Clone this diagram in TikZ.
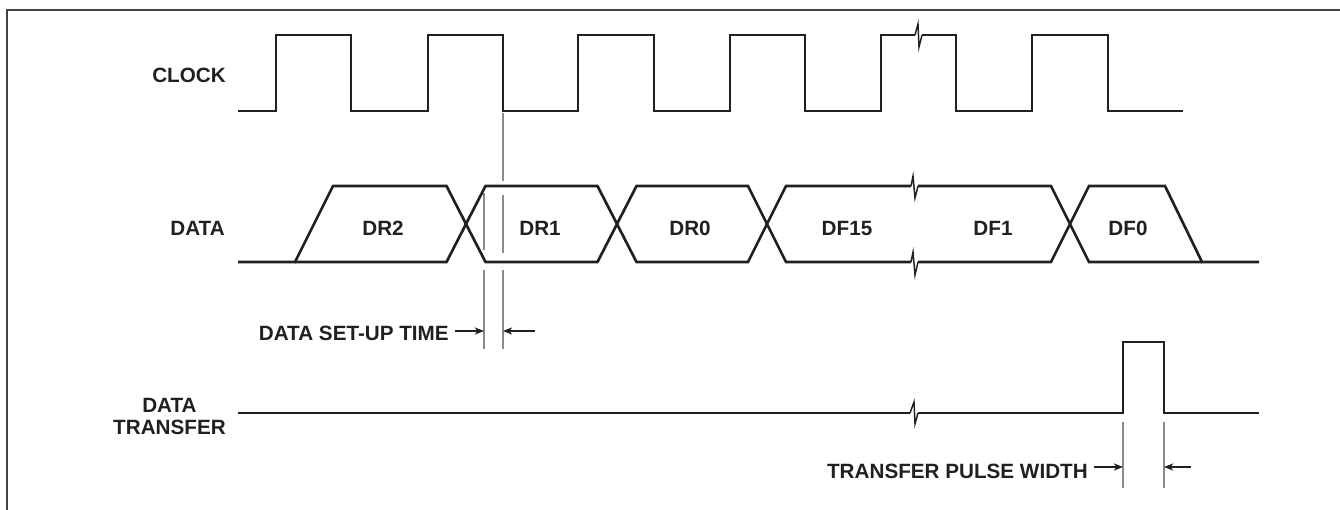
\documentclass[tikz,border=0pt]{standalone}
\usepackage{fontspec}
\setmainfont{Liberation Sans}
\usetikzlibrary{arrows.meta}
\definecolor{ink}{HTML}{231F20}
\definecolor{guide}{HTML}{8A8A8A}
\begin{document}
\begin{tikzpicture}[x=0.75pt,y=-0.75pt,
  sig/.style={draw=ink,line width=2pt,line join=miter},
  brk/.style={draw=ink,line width=1.1pt},
  guideline/.style={draw=guide,line width=0.9pt},
  dimarrow/.style={draw=ink,line width=0.8pt,-{Stealth[length=7pt,width=5.5pt]}},
  lbl/.style={font=\fontsize{15.5}{16.5}\selectfont\bfseries,text=ink,inner sep=0pt},
  frameline/.style={draw=ink!85,line width=1.5pt}]
\useasboundingbox (0,0) rectangle (1340,510);
% frame
\draw[frameline] (7,510) -- (7,10) -- (1340,10);
% signal names
\node[lbl,anchor=east] (nclk) at (226,75) {CLOCK};
\node[lbl,anchor=east] (ndata) at (225,228) {DATA};
\node[lbl,anchor=east,align=center] (ndt) at (226,416) {DATA\\TRANSFER};
% clock
\draw[sig] (238,111) -- (276,111) -- (276,35) -- (351,35) -- (351,111) -- (428,111) -- (428,35)
  -- (503,35) -- (503,111) -- (578,111) -- (578,35) -- (654,35) -- (654,111) -- (730,111)
  -- (730,35) -- (805,35) -- (805,111) -- (881,111) -- (881,35) -- (915,35);
\draw[brk] (915,35) -- (918,24) -- (919,47) -- (922,35);
\draw[sig] (922,35) -- (956,35) -- (956,111) -- (1032,111) -- (1032,35) -- (1108,35)
  -- (1108,111) -- (1183,111);
% data
\draw[sig] (238,262) -- (295,262) -- (333,186) -- (446.5,186) -- (485.5,262) -- (597.5,262)
  -- (636.5,186) -- (748,186) -- (786,262) -- (911,262);
\draw[sig] (918,262) -- (1051,262) -- (1089,186) -- (1165,186) -- (1202,262) -- (1259,262);
\draw[sig] (295,262) -- (446.5,262) -- (485.5,186) -- (597.5,186) -- (636.5,262) -- (748,262)
  -- (786,186) -- (911,186);
\draw[sig] (918,186) -- (1051,186) -- (1089,262) -- (1202,262);
\draw[brk] (911,186) -- (913,176) -- (915,198) -- (918,186);
\draw[brk] (911,262) -- (913,252) -- (915,275) -- (918,262);
\node[lbl] (dr2) at (383,228) {DR2};
\node[lbl] (dr1) at (540,228) {DR1};
\node[lbl] (dr0) at (690,228) {DR0};
\node[lbl] (df15) at (847,228) {DF15};
\node[lbl] (df1) at (993,228) {DF1};
\node[lbl] (df0) at (1128,228) {DF0};
% data transfer
\draw[sig] (238,413) -- (910,413);
\draw[brk] (910,413) -- (914,402) -- (915,424) -- (918,413);
\draw[sig] (918,413) -- (1123,413) -- (1123,342) -- (1164,342) -- (1164,413) -- (1259,413);
% set-up time guides
\draw[guideline] (503,113) -- (503,181) (503,195) -- (503,253) (503,270) -- (503,349);
\draw[guideline] (484,193) -- (484,250) (484,270) -- (484,349);
\coordinate (su1) at (484,331);
\coordinate (su2) at (503,331);
\coordinate (su3) at (535,331);
\node[lbl,anchor=east] (setup) at (449,333) {DATA SET-UP TIME};
\draw[dimarrow] (setup.east |- su1) ++(6,0) -- (su1);
\draw[dimarrow] (su3) -- (su2);
% pulse width guides
\draw[guideline] (1123,422) -- (1123,488);
\draw[guideline] (1164,422) -- (1164,488);
\coordinate (pw1) at (1123,467);
\coordinate (pw2) at (1164,467);
\coordinate (pw3) at (1191,467);
\node[lbl,anchor=east] (pulse) at (1088,471) {TRANSFER PULSE WIDTH};
\draw[dimarrow] (pulse.east |- pw1) ++(6,0) -- (pw1);
\draw[dimarrow] (pw3) -- (pw2);
\end{tikzpicture}
\end{document}
